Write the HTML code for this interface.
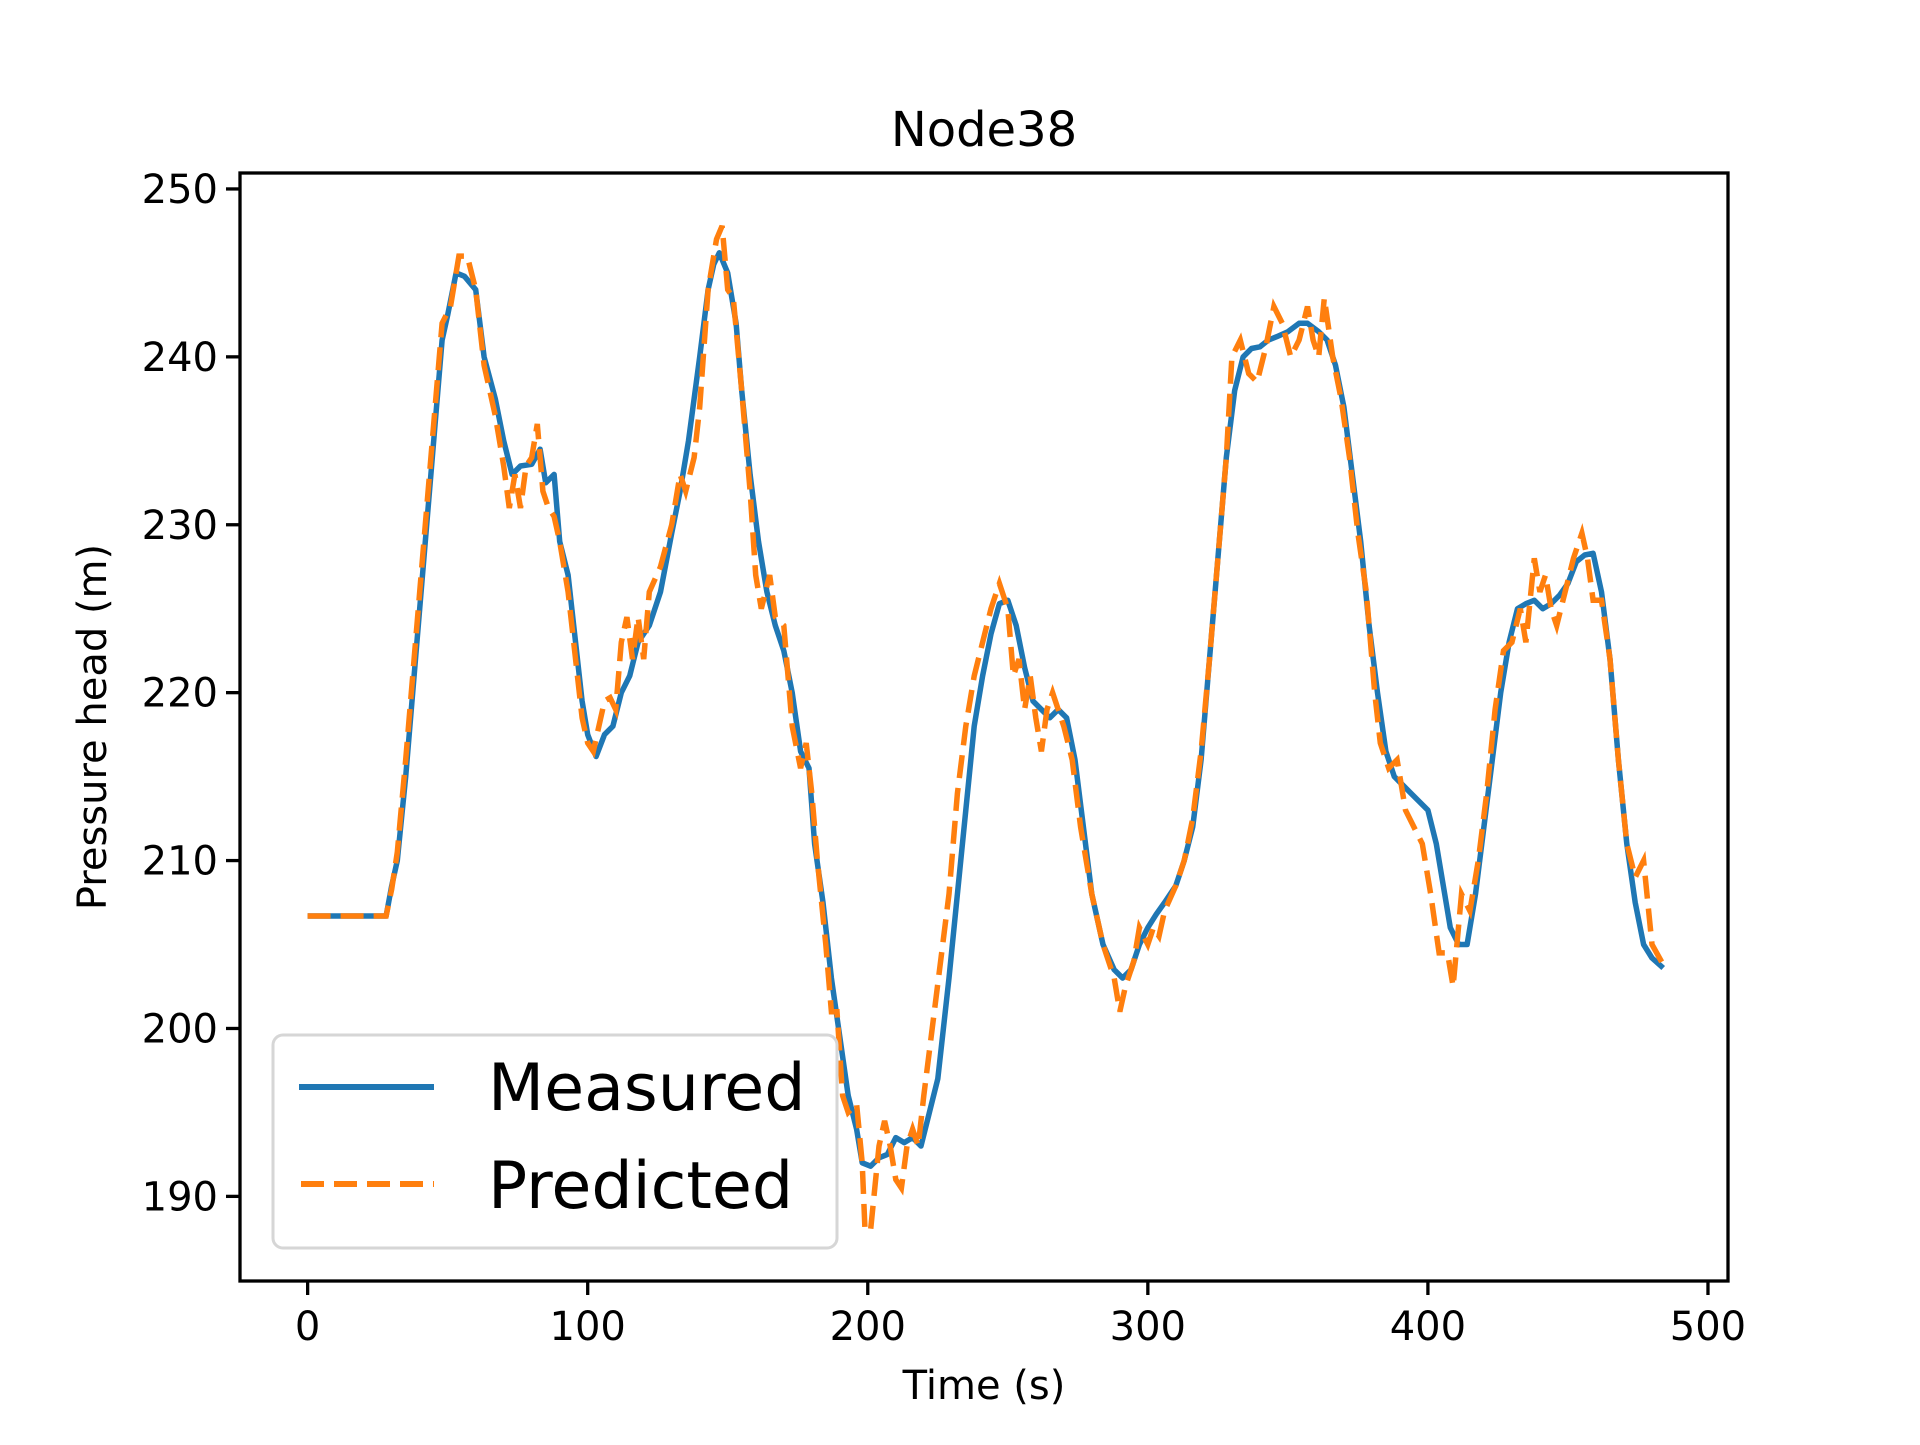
<!DOCTYPE html>
<html><head><meta charset="utf-8"><style>
html,body{margin:0;padding:0;background:#fff;}
svg text{font-family:"DejaVu Sans","Liberation Sans",sans-serif;fill:#000;}
</style></head><body>
<svg id="chart" width="1920" height="1440" viewBox="0 0 1920 1440" xmlns="http://www.w3.org/2000/svg">
<rect width="1920" height="1440" fill="#fff"/>
<text x="984" y="146" font-size="48" text-anchor="middle">Node38</text>
<g id="plot"></g>
<g id="axes"></g>
<text x="984" y="1399" font-size="40" text-anchor="middle">Time (s)</text>
<text transform="translate(106,727) rotate(-90)" font-size="40" text-anchor="middle">Pressure head (m)</text>
<g>
<rect x="273" y="1035" width="564" height="213" rx="10" fill="#fff" fill-opacity="0.8" stroke="#d6d6d6" stroke-width="3"/>
<line x1="299" y1="1087" x2="434" y2="1087" stroke="#1f77b4" stroke-width="6"/>
<text x="488" y="1110" font-size="65">Measured</text>
<line x1="301" y1="1184" x2="434" y2="1184" stroke="#ff7f0e" stroke-width="6" stroke-dasharray="23,10"/>
<text x="488" y="1208" font-size="65">Predicted</text>
</g>
</svg>
<script>
const measuredT = [
0,28,30,32,35,40,45,48,50,53,
56,60,63,67,70,73,76,80,83,85,
88,90,93,95,98,100,103,106,109,112,
115,118,122,126,130,133,136,140,143,145,
147,150,153,155,158,161,164,167,170,173,
176,179,181,184,187,190,193,196,198,201,
204,207,210,213,216,219,222,225,227,229,
232,235,238,241,244,247,250,253,256,259,
262,265,268,271,274,277,280,284,288,291,
294,297,300,303,306,310,313,316,319,322,
325,328,331,334,337,340,343,346,350,354,
357,361,364,367,370,373,376,379,382,385,
388,391,394,397,400,403,406,408,411,414,
417,420,423,426,429,432,435,438,441,444,
447,450,453,456,459,462,465,468,471,474,
477,480,484];
const measuredV = [
206.7,206.7,208.5,210,215,225,235,241,242.5,245,
244.8,244,240,237.5,235,233,233.5,233.6,234.5,232.5,
233,229,227,224,219.5,217.5,216.2,217.5,218,220,
221,223,224,226,229.5,232,235,240,244,245.5,
246.2,245,242,238,233,229,226,224,222.5,220,
216.5,215.5,211,207.5,203,199.5,196,194,192,191.8,
192.3,192.5,193.5,193.2,193.5,193,195,197,200,203,
208,213,218,221,223.5,225.3,225.5,224,221.5,219.5,
219,218.5,219,218.5,216,212,208,205,203.5,203,
203.5,205,206,206.8,207.5,208.5,210,212,216,222,
228,234,238,240,240.5,240.6,241,241.2,241.5,242,
242,241.5,241,239.5,237,233,229,224,220,216.5,
215,214.5,214,213.5,213,211,208,206,205,205,
208,212,216,220,223,225,225.3,225.5,225,225.3,
225.8,226.5,227.8,228.2,228.3,226,222,216,211,207.5,
205,204.2,203.6];
const predictedT = [
0,28,30,32,35,40,45,48,51,54,
57,60,63,65,67,70,72,74,76,78,
80,82,84,86,88,90,93,95,98,100,
102,104,106,108,110,112,114,116,118,120,
122,126,130,133,135,138,140,143,146,148,
150,152,155,158,160,162,165,167,170,173,
176,178,180,182,185,187,189,191,193,196,
198,199,201,204,206,208,210,212,214,216,
218,220,223,226,229,232,235,238,241,244,
247,250,252,254,256,258,260,262,264,266,
268,270,273,276,280,284,288,290,292,295,
297,300,302,304,306,310,313,316,319,322,
325,328,330,333,336,339,342,345,348,351,
354,357,359,361,363,366,369,372,375,378,
381,383,386,389,392,395,398,401,404,407,
409,412,415,418,421,424,427,430,433,435,
438,440,442,444,446,449,452,455,457,459,
462,465,468,471,474,477,480,484];
const predictedV = [
206.7,206.7,208.3,210.5,216,226,236,242,243,246,
246,244,239.5,238,236.5,233.5,231,233,231,233.5,
234,236,232,231,230.5,229,226,223,218.5,217,
216.5,218,219.5,219.7,219,223,224.5,222,224.5,222,
226,227.5,230,233,232,234,237,244,247,247.8,
244,243.5,238,232,227,225,227,224.5,224,218,
215.5,217,214,210,205,201,201,196,195,195.5,
192,188,188,193,194.5,193,191,190.5,193,194,
193,196,200,204,208,214,218,221,223,225,
226.5,225,221,222,219,221,218.5,216.5,219,220,
219,218,216,212,208,205,203,201,202.5,204,
206,205,206,205.5,207,208.5,210,212.5,216.5,222,
228,234,240,241,239,238.5,240.5,243,242,240,
241,243,241,240,243.5,240,237.5,234,229.5,226,
220,217,215.5,216,213,212,211,208,204.5,204.5,
202.5,208,207,210,214,219,222.5,223,225,223,
228,226,227,225,224,226,228,229.5,228,225.5,
225.5,222,216,211,209,210,205,203.8];
const xTicks = [0,100,200,300,400,500];
const yTicks = [190,200,210,220,230,240,250];

const L=240,R=1728,T=173,B=1281;
const X0=-24.15,X1=507.15,Y0=184.96,Y1=250.95;
const sx=v=>L+(v-X0)/(X1-X0)*(R-L);
const sy=v=>B-(v-Y0)/(Y1-Y0)*(B-T);
const NS='http://www.w3.org/2000/svg';
const plot=document.getElementById('plot');
const axes=document.getElementById('axes');
function mk(tag,attrs,parent){const e=document.createElementNS(NS,tag);for(const k in attrs)e.setAttribute(k,attrs[k]);parent.appendChild(e);return e;}

const cp=mk('clipPath',{id:'clip'},plot);
mk('rect',{x:L,y:T,width:R-L,height:B-T},cp);
const m=mk('polyline',{points:measuredT.map((t,i)=>sx(t).toFixed(1)+','+sy(measuredV[i]).toFixed(1)).join(' '),fill:'none',stroke:'#1f77b4','stroke-width':5.5,'stroke-linejoin':'round','clip-path':'url(#clip)'},plot);


const p=mk('polyline',{points:predictedT.map((t,i)=>sx(t).toFixed(1)+','+sy(predictedV[i]).toFixed(1)).join(' '),fill:'none',stroke:'#ff7f0e','stroke-width':5.5,'stroke-dasharray':'23,10','clip-path':'url(#clip)'},plot);



const frame=mk('rect',{x:L,y:T,width:R-L,height:B-T,fill:'none',stroke:'#000','stroke-width':3.3},axes);


xTicks.forEach(v=>{
  const x=sx(v);
  const tk=mk('line',{x1:x,y1:B,x2:x,y2:B+14,stroke:'#000','stroke-width':3.3},axes);
  
  
  const tx=mk('text',{x:x,y:1340,'font-size':40,'text-anchor':'middle'},axes);
  tx.textContent=v;
  
  
});
yTicks.forEach(v=>{
  const y=sy(v);
  const tk=mk('line',{x1:L-14,y1:y,x2:L,y2:y,stroke:'#000','stroke-width':3.3},axes);
  
  
  const tx=mk('text',{x:L-22,y:y+14,'font-size':40,'text-anchor':'end'},axes);
  tx.textContent=v;
  
  
});
</script>
</body></html>
